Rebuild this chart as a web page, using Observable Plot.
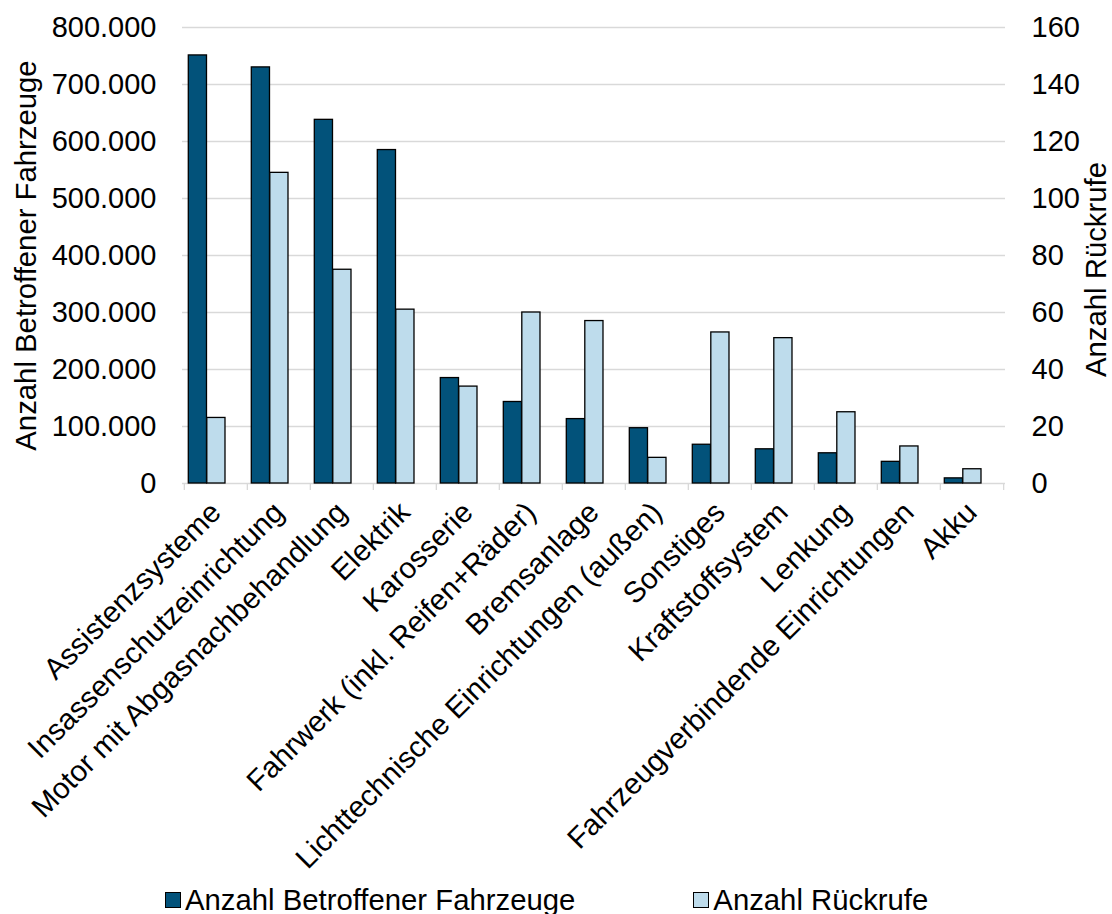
<!DOCTYPE html>
<html>
<head>
<meta charset="utf-8">
<script src="https://cdn.jsdelivr.net/npm/d3@7"></script>
<script src="https://cdn.jsdelivr.net/npm/@observablehq/plot@0.6"></script>
<style>
  html, body { margin: 0; padding: 0; background: #fff; overflow: hidden; }
  #chart { width: 1112px; }
  #legend { display: flex; justify-content: flex-start; align-items: center; padding-left: 165px; gap: 118px;
            font-family: "Liberation Sans", Arial, sans-serif; font-size: 29.3px; line-height: 30px; color: #000; margin-top: 5px; }
  #legend .item { display: flex; align-items: center; white-space: nowrap; }
  #legend .sw { display: inline-block; width: 14px; height: 14px; border: 1.3px solid #000; margin-right: 4px; }
</style>
</head>
<body>
<div id="chart"></div>
<div id="legend"></div>
<script>
const categories = [
  "Assistenzsysteme",
  "Insassenschutzeinrichtung",
  "Motor mit Abgasnachbehandlung",
  "Elektrik",
  "Karosserie",
  "Fahrwerk (inkl. Reifen+Räder)",
  "Bremsanlage",
  "Lichttechnische Einrichtungen (außen)",
  "Sonstiges",
  "Kraftstoffsystem",
  "Lenkung",
  "Fahrzeugverbindende Einrichtungen",
  "Akku"
];
const vehicles = [751000, 730000, 638000, 585000, 185000, 143000, 113000, 97000, 68000, 60000, 53000, 38000, 9000];
const recalls = [23, 109, 75, 61, 34, 60, 57, 9, 53, 51, 25, 13, 5];
const leftTicks = [0, 100000, 200000, 300000, 400000, 500000, 600000, 700000, 800000];
const rightTicks = [0, 20, 40, 60, 80, 100, 120, 140, 160];
const seriesNames = ["Anzahl Betroffener Fahrzeuge", "Anzahl Rückrufe"];
const leftTitle = "Anzahl Betroffener Fahrzeuge";
const rightTitle = "Anzahl Rückrufe";

const colors = ["#02527a", "#bedcec"];
const W = 1112, H = 880;
const mL = 182, mR = 107, mT = 27, mB = H - 483;
const step = (W - mL - mR) / categories.length;
const barW = 18.5, gapL = 4.3;
const ratio = leftTicks[leftTicks.length - 1] / rightTicks[rightTicks.length - 1];

const rows = categories.map((c, i) => ({category: c, vehicles: vehicles[i], recalls: recalls[i]}));
const de = d3.formatLocale({decimal: ",", thousands: ".", grouping: [3], currency: ["", " €"]});
const fmt = de.format(",d");

const chart = Plot.plot({
  width: W, height: H,
  marginLeft: mL, marginRight: mR, marginTop: mT, marginBottom: mB,
  style: {fontFamily: "'Liberation Sans', Arial, sans-serif", fontSize: "29px", color: "#000", background: "#fff", overflow: "visible"},
  x: {domain: categories, paddingInner: 0, paddingOuter: 0},
  y: {domain: [0, leftTicks[leftTicks.length - 1]]},
  marks: [
    Plot.gridY(leftTicks, {stroke: "#d9d9d9", strokeOpacity: 1, strokeWidth: 1.3}),
    Plot.ruleX(categories, {x: d => d, y1: 0, y2: 0, dx: -step / 2, insetBottom: -7, stroke: "#d9d9d9", strokeWidth: 1.3}),
    Plot.ruleX([categories[categories.length - 1]], {x: d => d, y1: 0, y2: 0, dx: step / 2, insetBottom: -7, stroke: "#d9d9d9", strokeWidth: 1.3}),
    Plot.barY(rows, {x: "category", y: "vehicles", fill: colors[0], stroke: "#000", strokeWidth: 1.3,
      insetLeft: gapL, insetRight: step - gapL - barW}),
    Plot.barY(rows, {x: "category", y: d => d.recalls * ratio, fill: colors[1], stroke: "#000", strokeWidth: 1.3,
      insetLeft: gapL + barW, insetRight: step - gapL - 2 * barW}),
    Plot.axisY(leftTicks, {anchor: "left", tickSize: 0, tickPadding: 26, tickFormat: fmt, label: null}),
    Plot.axisY(rightTicks.map(v => v * ratio), {anchor: "right", tickSize: 0, tickPadding: 26, tickFormat: d => String(Math.round(d / ratio)), label: null}),
    Plot.axisX({tickRotate: -45, tickSize: 0, tickPadding: 24, label: null, fontSize: 29.5}),
    Plot.text([leftTitle], {frameAnchor: "left", text: d => d, rotate: -90, textAnchor: "middle", lineAnchor: "middle", dx: -156, fontSize: 29.3}),
    Plot.text([rightTitle], {frameAnchor: "right", text: d => d, rotate: -90, textAnchor: "middle", lineAnchor: "middle", dx: 91, dy: 14, fontSize: 29.3})
  ]
});
document.getElementById("chart").appendChild(chart);

const legend = document.getElementById("legend");
seriesNames.forEach((name, i) => {
  const item = document.createElement("div");
  item.className = "item";
  const sw = document.createElement("span");
  sw.className = "sw";
  sw.style.background = colors[i];
  item.appendChild(sw);
  item.appendChild(document.createTextNode(name));
  legend.appendChild(item);
});
</script>
</body>
</html>
